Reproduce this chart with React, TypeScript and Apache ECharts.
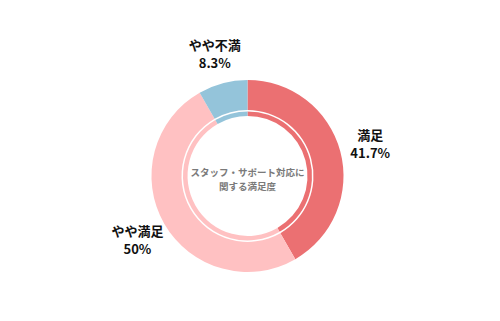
import React, { useEffect, useRef } from "react";
import * as echarts from "echarts";

const categories = ["満足", "やや満足", "やや不満"];
const values = [41.7, 50, 8.3];
const percentLabels = ["41.7%", "50%", "8.3%"];
const colors = ["#EB7072", "#FFC1C2", "#94C4DA"];
const centerTitle = ["スタッフ・サポート対応に", "関する満足度"];

export default function App() {
  const ref = useRef<HTMLDivElement>(null);
  useEffect(() => {
    if (!ref.current) return;
    const chart = echarts.init(ref.current, null, { renderer: "svg" });
    const data = categories.map((name, i) => ({
      name,
      value: values[i],
      itemStyle: { color: colors[i] },
    }));
    const center = ["49.5%", "54.8%"];
    chart.setOption({
      animation: false,
      backgroundColor: "#ffffff",
      series: [
        {
          type: "pie",
          center,
          radius: [66, 96],
          startAngle: 90,
          clockwise: true,
          silent: true,
          label: { show: false },
          labelLine: { show: false },
          data,
        },
        {
          type: "pie",
          center,
          radius: [60, 64.5],
          startAngle: 90,
          clockwise: true,
          silent: true,
          label: { show: false },
          labelLine: { show: false },
          data,
        },
        {
          type: "pie",
          center,
          radius: [96, 152],
          startAngle: 90,
          clockwise: true,
          silent: true,
          itemStyle: { color: "rgba(0,0,0,0)" },
          label: {
            show: true,
            position: "inside",
            formatter: (p: any) => `{n|${p.name}}\n{v|${percentLabels[p.dataIndex]}}`,
            align: "center",
            rich: {
              n: {
                color: "#111111",
                fontSize: 13,
                fontWeight: "bold",
                lineHeight: 18,
                fontFamily: "'Noto Sans CJK JP', 'Noto Sans', sans-serif",
              },
              v: {
                color: "#111111",
                fontSize: 13,
                fontWeight: "bold",
                lineHeight: 18,
                fontFamily: "'Noto Sans CJK JP', 'Noto Sans', sans-serif",
              },
            },
          },
          labelLine: { show: false },
          data: categories.map((name, i) => ({ name, value: values[i] })),
        },
      ],
      graphic: [
        {
          type: "text",
          x: 247.5,
          y: 179,
          style: {
            text: centerTitle.join("\n"),
            align: "center",
            verticalAlign: "middle",
            fill: "#7a7a7a",
            fontSize: 9.5,
            lineHeight: 14,
            fontWeight: "bold",
            fontFamily: "'Noto Sans CJK JP', sans-serif",
          },
        },
      ],
    });
    return () => chart.dispose();
  }, []);
  return (
    <div
      ref={ref}
      style={{ position: "fixed", left: 0, top: 0, width: 500, height: 321, background: "#fff" }}
    />
  );
}
